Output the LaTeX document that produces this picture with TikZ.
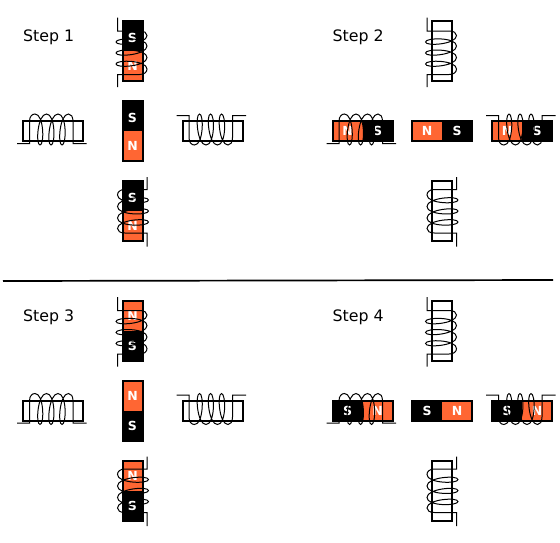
\documentclass[tikz,border=0pt]{standalone}
\usepackage{fontspec}
\setmainfont{DejaVu Sans}

\definecolor{northred}{HTML}{FF6633}

\tikzset{
wire/.style={draw=black,line width=1pt},
core/.style={draw=black,line width=2pt},
pole/.style={text=white,font=\fontsize{12.5}{12.5}\selectfont\bfseries,inner sep=0pt},
steplabel/.style={anchor=west,inner sep=0pt,font=\fontsize{15.8}{15.8}\selectfont}
}

% empty stator core, lying flat
\newcommand{\emptycore}[1]{
\draw[core] (#1) ++(-30,-10) rectangle ++(60,20);
}

% magnet lying flat, north on the left before it is turned
\newcommand{\barmagnet}[4]{
\begin{scope}[shift={(#2)},rotate=#3]
\fill[northred] (-30,-10) rectangle (0,10);
\fill[black] (0,-10) rectangle (30,10);
\draw[core] (-30,-10) rectangle (30,10);
\node[pole] (#1n) at (-15,0) {N};
\node[pole] (#1s) at (#4,0) {S};
\end{scope}
}

% winding with both leads on the same side
\newcommand{\coilwire}{
\draw[wire] (-36,14) -- (-23.5,14) -- (-23.5,-8)
.. controls (-23.5,-13) and (-21,-15.5) .. (-18,-15.5)
\foreach \xa/\xb/\xc in {-18/-13/-6.5,-6.5/-2/5,5/9/15.5}
{
.. controls (\xa+9,-15.5) and (\xb+4.5,15.5) .. (\xb,15.5)
.. controls (\xb-4.5,15.5) and (\xc-9,-15.5) .. (\xc,-15.5)
}
.. controls (18,-15.5) and (20,-13) .. (20,-8) -- (20,14) -- (33.5,14);
}

\begin{document}
\begin{tikzpicture}[x=1pt,y=-1pt]

\useasboundingbox (0,0) rectangle (560,542);

% Step 1
\node[steplabel] (stepone) at (23,37.5) {Step 1};
\barmagnet{oneup}{132.5,51}{90}{13}
\barmagnet{onemid}{132.5,131}{90}{13}
\barmagnet{onedown}{132.5,211}{90}{13}
\emptycore{53,131}
\emptycore{212.5,131}

% Step 2
\begin{scope}[xshift=309.5pt]
\node[steplabel] (steptwo) at (23,37.5) {Step 2};
\barmagnet{twoleft}{53,131}{0}{15}
\barmagnet{twomid}{132.5,131}{0}{15}
\barmagnet{tworight}{212.5,131}{0}{15}
\begin{scope}[rotate around={90:(132.5,51)}]
\emptycore{132.5,51}
\end{scope}
\begin{scope}[rotate around={90:(132.5,211)}]
\emptycore{132.5,211}
\end{scope}
\end{scope}

% Step 3
\begin{scope}[yshift=-279.5pt]
\node[steplabel] (stepthree) at (23,37.5) {Step 3};
\barmagnet{threeup}{132.5,51}{-90}{15}
\barmagnet{threemid}{132.5,131}{-90}{15}
\barmagnet{threedown}{132.5,211}{-90}{15}
\emptycore{53,131}
\emptycore{212.5,131}
\end{scope}

% Step 4
\begin{scope}[xshift=309.5pt,yshift=-279.5pt]
\node[steplabel] (stepfour) at (23,37.5) {Step 4};
\barmagnet{fourleft}{53,131}{180}{15}
\barmagnet{fourmid}{132.5,131}{180}{15}
\barmagnet{fourright}{212.5,131}{180}{15}
\begin{scope}[rotate around={90:(132.5,51)}]
\emptycore{132.5,51}
\end{scope}
\begin{scope}[rotate around={90:(132.5,211)}]
\emptycore{132.5,211}
\end{scope}
\end{scope}

% Windings
\foreach \sx/\sy in {0/0,309.5/0,0/279.5,309.5/279.5}
{
\begin{scope}[xshift=\sx pt,yshift=-\sy pt]
\begin{scope}[shift={(53,129.5)}]
\coilwire
\end{scope}
\begin{scope}[shift={(212.5,129.5)},yscale=-1]
\coilwire
\end{scope}
\begin{scope}[shift={(131.5,51)},rotate=90,yscale=-1]
\coilwire
\end{scope}
\begin{scope}[shift={(133,213)},rotate=-90,yscale=-1]
\coilwire
\end{scope}
\end{scope}
}

% Divider
\coordinate (divleft) at (3,281);
\coordinate (divright) at (553,280);
\draw[line width=1.7pt] (divleft) -- (divright);

\end{tikzpicture}
\end{document}
